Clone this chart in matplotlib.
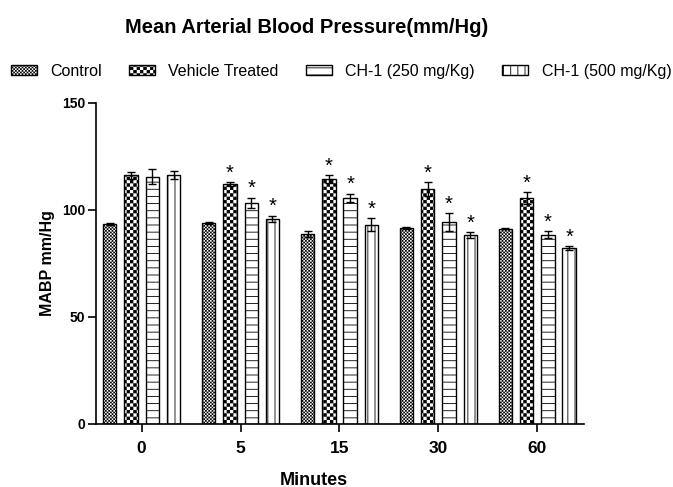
import numpy as np
import matplotlib
matplotlib.use("Agg")
import matplotlib.pyplot as plt
from matplotlib import hatch as mhatch
from matplotlib.path import Path

# values (mean +/- error), mmHg
minutes = ['0', '5', '15', '30', '60']
series_names = ['Control', 'Vehicle Treated', 'CH-1 (250 mg/Kg)', 'CH-1 (500 mg/Kg)']

control = [93.3, 93.8, 88.6, 91.4, 91.1]
control_err = [0.6, 0.5, 1.3, 0.5, 0.3]
vehicle = [116.0, 112.0, 114.2, 109.7, 105.5]
vehicle_err = [1.6, 0.9, 1.8, 3.1, 2.8]
ch250 = [115.4, 103.3, 105.5, 94.3, 88.4]
ch250_err = [3.5, 2.3, 2.0, 4.0, 1.5]
ch500 = [116.4, 95.8, 93.0, 88.2, 82.2]
ch500_err = [1.9, 1.4, 3.1, 1.5, 0.8]

control_sig = [False, False, False, False, False]
vehicle_sig = [False, True, True, True, True]
ch250_sig = [False, True, True, True, True]
ch500_sig = [False, True, True, True, True]


# checkerboard hatches ('o' fine, 'O' coarse) and denser line hatches
class CheckerHatch(mhatch.HatchPatternBase):
    char = 'O'

    def __init__(self, hatch, density):
        self.n = int(hatch.count(self.char) * density)
        self.num_vertices = (self.n * self.n // 2) * 5

    def set_vertices_and_codes(self, vertices, codes):
        s = 1.0 / self.n
        pad = 0.004
        k = 0
        for i in range(self.n):
            for j in range(self.n):
                if (i + j) % 2 == 0:
                    x0, y0 = i * s + pad, j * s + pad
                    x1, y1 = (i + 1) * s - pad, (j + 1) * s - pad
                    vertices[k:k + 5] = [[x0, y0], [x1, y0], [x1, y1], [x0, y1], [x0, y0]]
                    codes[k:k + 5] = [Path.MOVETO, Path.LINETO, Path.LINETO,
                                      Path.LINETO, Path.CLOSEPOLY]
                    k += 5


class FineChecker(CheckerHatch):
    char = 'o'


class HLines(mhatch.HorizontalHatch):
    def __init__(self, hatch, density):
        self.num_lines = int(hatch.count('-') * 7)
        self.num_vertices = self.num_lines * 2


class VLines(mhatch.VerticalHatch):
    def __init__(self, hatch, density):
        self.num_lines = int(hatch.count('|') * 7)
        self.num_vertices = self.num_lines * 2


mhatch._hatch_types = [HLines, VLines, mhatch.NorthEastHatch, mhatch.SouthEastHatch,
                       FineChecker, CheckerHatch, mhatch.SmallFilledCircles, mhatch.Stars]

plt.rcParams['font.family'] = ['Liberation Sans', 'DejaVu Sans']
plt.rcParams['hatch.linewidth'] = 0.6
plt.rcParams['hatch.color'] = 'black'

fig = plt.figure(figsize=(6.73, 4.87), dpi=100)
ax = fig.add_axes([0.1426, 0.1294, 0.7251, 0.6598])

x = np.arange(len(minutes))
pitch = 0.215
width = 0.135
all_vals = [control, vehicle, ch250, ch500]
all_errs = [control_err, vehicle_err, ch250_err, ch500_err]
all_sig = [control_sig, vehicle_sig, ch250_sig, ch500_sig]
hatches = ['oooooooooo', 'OOOOO', '--', '||']

for k in range(4):
    pos = x + (k - 1.5) * pitch
    ax.bar(pos, all_vals[k], width, color='white', edgecolor='black', linewidth=1.0,
           hatch=hatches[k], label=series_names[k], zorder=2)
    ax.errorbar(pos, all_vals[k], yerr=all_errs[k], fmt='none', ecolor='black',
                elinewidth=1.0, capsize=2.6, capthick=1.0, zorder=3)
    for p, v, e, s in zip(pos, all_vals[k], all_errs[k], all_sig[k]):
        if s:
            ax.annotate('*', (p, v + e), xytext=(0, 2.5), textcoords='offset points',
                        ha='center', va='baseline', fontsize=14.5)

ax.set_xlim(-0.462, 4.472)
ax.set_ylim(0, 150)
ax.set_yticks([0, 50, 100, 150])
ax.set_xticks(x)
ax.set_xticklabels(minutes)
for lab in ax.get_xticklabels():
    lab.set_fontsize(12.5)
    lab.set_fontweight('bold')
for lab in ax.get_yticklabels():
    lab.set_fontsize(10)
    lab.set_fontweight('bold')
ax.tick_params(axis='y', length=5.8, width=1.2, pad=2)
ax.tick_params(axis='x', length=6, width=1.2, pad=6)

for side in ['top', 'right']:
    ax.spines[side].set_visible(False)
for side in ['left', 'bottom']:
    ax.spines[side].set_linewidth(1.2)

ax.set_ylabel('MABP mm/Hg', fontsize=11.5, fontweight='bold')
ax.yaxis.set_label_coords(-0.083, 0.5)
ax.set_xlabel('Minutes', fontsize=13, fontweight='bold', va='top')
ax.xaxis.set_label_coords(0.447, -0.148)

fig.text(0.455, 1 - 33 / 487, 'Mean Arterial Blood Pressure(mm/Hg)', ha='center',
         va='baseline', fontsize=14.5, fontweight='bold')

fig.legend(loc='center', bbox_to_anchor=(0.507, 0.854), ncol=4, frameon=False,
           fontsize=11.5, handlelength=1.6, handleheight=0.65, handletextpad=0.85,
           columnspacing=1.72, borderpad=0)

fig.savefig('out.png', dpi=100)
